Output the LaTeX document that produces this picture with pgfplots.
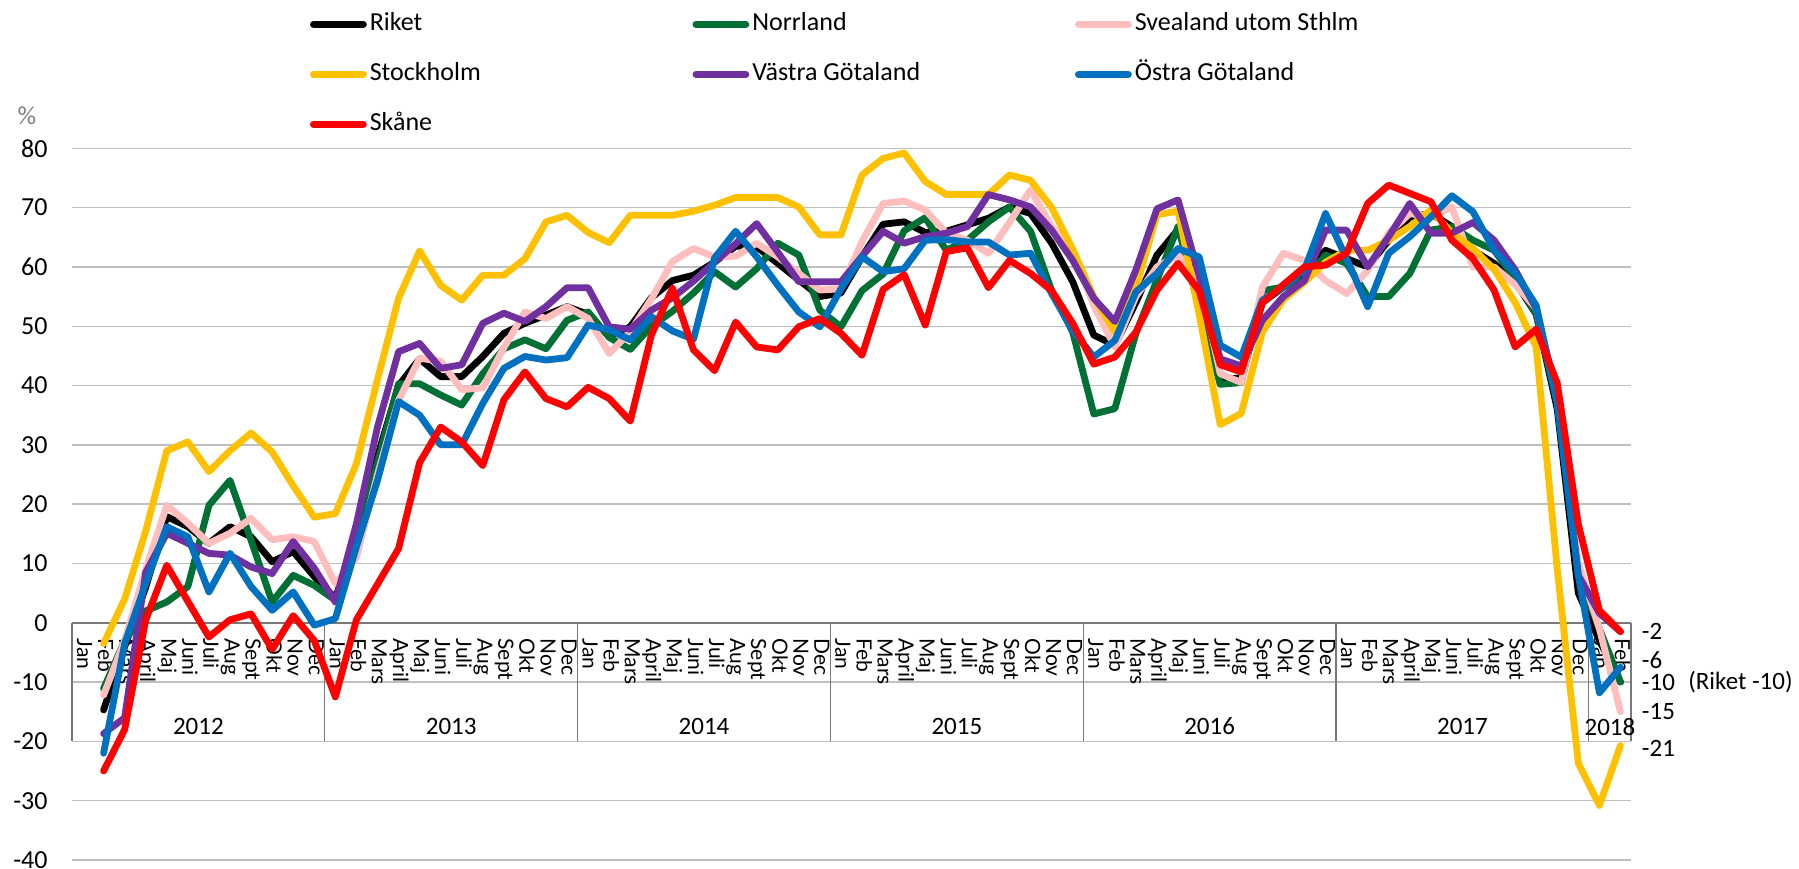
\documentclass[border=0pt]{standalone}
\usepackage{fontspec}
\setmainfont{Carlito}
\newfontfamily\latof{Lato}
\usepackage{pgfplots}
\usepackage{pgfplotstable}
\pgfplotsset{compat=1.18}
\definecolor{cNorr}{RGB}{0,112,52}
\definecolor{cSvea}{RGB}{255,190,190}
\definecolor{cSthlm}{RGB}{255,192,0}
\definecolor{cVG}{RGB}{112,48,160}
\definecolor{cOG}{RGB}{0,112,192}
\definecolor{cSk}{RGB}{255,0,0}
\definecolor{gridgray}{RGB}{191,191,191}
\definecolor{sepgray}{RGB}{120,120,120}

\pgfplotstableread{
i R N S St VG OG Sk
1 -14.7 -11.1 -12.2 -3.5 -18.7 -22 -25
2 -4 -3 -3 4 -16 -3.5 -18
3 6 2 9 15.5 8.5 6.6 0.5
4 17.9 3.5 19.8 29 15.1 16.2 9.7
5 16.2 6.1 16.8 30.5 13.4 14.5 3.6
6 13.4 19.8 13.4 25.5 11.7 5.2 -2.4
7 16.2 24 15.1 29 11.4 11.7 0.5
8 14.5 13.9 17.6 32 9.4 6.1 1.5
9 10.3 3.5 14 28.8 8.3 2.1 -4.5
10 12 8 14.5 23.1 13.7 5.2 1.2
11 7.8 6.3 13.7 17.8 9.2 -0.4 -3
12 4.1 3.8 6.6 18.4 3.5 0.7 -12.5
13 15 14 11 26.8 16.7 12.8 0.5
14 28 27 25 41 33 24 6.5
15 40 40.3 37.5 54.7 45.7 37.3 12.5
16 44.5 40.3 44.6 62.7 47.1 35 27
17 41.5 38.4 44.1 56.9 42.9 30 33
18 41.5 36.7 39.3 54.4 43.5 30 30.5
19 44.9 42 39.6 58.6 50.5 37 26.5
20 48.8 46.2 46.4 58.6 52.2 42.9 37.6
21 50.5 47.7 52.4 61.4 50.8 44.9 42.3
22 51.9 46.2 51.3 67.6 53.3 44.3 37.8
23 53.3 51 53.3 68.7 56.5 44.7 36.4
24 52 52.4 51.3 65.8 56.5 50.2 39.7
25 48.3 48.1 45.4 64.1 49.9 49.4 37.8
26 49.9 46.1 49.1 68.7 49.5 47.7 34
27 54.8 50 54.6 68.7 52.7 51.6 48.5
28 57.7 52.5 60.9 68.7 54.8 49.2 56.4
29 58.6 55.6 63.1 69.4 57.6 47.8 46
30 60.8 59.2 61.7 70.4 60.8 61.5 42.5
31 63.5 56.6 61.8 71.7 63.9 66 50.7
32 63.4 59.7 64 71.7 67.3 61.7 46.5
33 60.6 64 61.7 71.7 62.5 56.9 46
34 57.8 62 58.9 70.1 57.5 52.4 49.9
35 55 52.7 56.1 65.4 57.5 49.9 51.3
36 55.6 49.9 56.3 65.4 57.5 56.3 48.8
37 61.7 56 64.3 75.5 61.8 61.7 45.1
38 67.2 58.8 70.7 78.3 66 59.2 56.2
39 67.6 66.1 71.1 79.2 64 59.7 58.7
40 65.8 68.3 69.6 74.4 65.1 64.5 50.2
41 66 62.8 65.7 72.2 65.7 64.6 62.6
42 67.1 64.5 64.5 72.2 66.8 64.2 63.2
43 68.2 67.6 62.3 72.2 72.2 64.2 56.5
44 70.1 70.1 67.5 75.5 71.3 62 61.1
45 69 66 73 74.6 70.1 62.3 58.9
46 64 56 66.8 70 66.2 55.5 56
47 57.5 49 62.8 63 61.1 49.3 50.5
48 48.5 35.2 53.5 55 54.7 44.8 43.6
49 46.8 36.1 46.5 49 50.8 47.6 44.8
50 54 48.8 55 56.5 59.5 55.8 49
51 62 57.8 60 68.8 69.8 58.9 56.1
52 66.3 66.8 62 69.4 71.3 63.1 60.6
53 57 53 58 52 58.5 61.7 56
54 41 40.2 42 33.4 44.5 46.8 43.5
55 41.3 40.5 40.5 35.3 43.3 44.8 42.3
56 54 56 56.6 49 51 54.4 53.9
57 56.6 56.6 62.3 54.5 55 56.6 57
58 58.9 57.7 61.1 57.4 57.7 59.5 60
59 62.8 62 57.7 60.8 66.2 69 60.3
60 61.4 60.6 55.5 62.8 66.2 61.4 62.3
61 60 55 59.4 62.8 60 53.3 70.7
62 64.5 55 65.7 64.5 65.1 62.3 73.8
63 68.4 58.9 69 66.8 70.7 65.1 72.4
64 69 66.2 68.4 69.6 65.7 68.4 71
65 66.8 66.8 70.1 65.7 65.7 72 64.5
66 62.8 64.5 60 63.1 67.5 69.3 61.4
67 60.6 62.8 60 59.6 64.5 62.8 56.1
68 57.5 58 57 54 59.5 59 46.5
69 52 52 53 46.5 53 53.5 49.5
70 36 37 38 9 38 37 40.4
71 5 8 10 -23.7 8 8 16.6
72 -3 -1 -1 -30.8 1.6 -11.8 2.1
73 -10 -10 -15 -20.7 -1.5 -7.5 -1.5
}\datatable

\tikzset{
  monthlab/.style={rotate=-90, anchor=west, inner sep=0pt, text height=7.5bp, text depth=2bp,
    font=\latof\fontsize{10.5bp}{12bp}\selectfont},
  yearlab/.style={inner sep=0pt, font=\fontsize{12.5bp}{14bp}\selectfont},
  annot/.style={anchor=west, inner sep=0pt, font=\fontsize{12.5bp}{14bp}\selectfont},
}

\begin{document}
\begin{tikzpicture}
\useasboundingbox (0,0) rectangle (899.5bp,434.5bp);
\begin{axis}[
  at={(36bp,4.5bp)}, anchor=south west,
  scale only axis, width=779.5bp, height=355.85bp,
  xmin=-0.5, xmax=73.5, ymin=-40, ymax=80,
  xtick=\empty,
  ytick={-40,-30,...,80},
  yticklabels={\mbox{-40},\mbox{-30},\mbox{-20},\mbox{-10},\mbox{0},\mbox{10},\mbox{20},\mbox{30},\mbox{40},\mbox{50},\mbox{60},\mbox{70},\mbox{80}},
  yticklabel style={font=\fontsize{13bp}{15bp}\selectfont, inner sep=0pt, anchor=east, xshift=-12bp},
  major tick length=0pt,
  ymajorgrids,
  major grid style={color=gridgray, line width=0.7bp},
  axis line style={draw=none},
  clip=false,
  legend columns=3,
  legend cell align=left,
  legend style={at={(0.15266,1.19096)}, anchor=north west, draw=none, fill=none,
    inner sep=0pt, outer sep=0pt, row sep=13bp,
    font=\fontsize{13bp}{15bp}\selectfont,
    nodes={inner sep=0pt, text height=9bp, text depth=3bp},
    /tikz/every odd column/.append style={column sep=1.5bp},
    /tikz/every even column/.append style={column sep=0bp}},
  legend image code/.code={\draw[#1, line width=3.4bp, line cap=round] (0bp,0bp) -- (25bp,0bp);},
  every axis plot/.append style={line width=3.4bp, line join=round, line cap=round, mark=none},
]
% category axis box
\draw[sepgray, line width=0.8bp] (axis cs:-0.5,0) -- (axis cs:73.5,0);
\foreach \s in {-0.5,11.5,23.5,35.5,47.5,59.5,71.5,73.5}{
  \edef\tmp{\noexpand\draw[sepgray, line width=0.6bp] (axis cs:\s,0) -- (axis cs:\s,-20);}\tmp
}
\foreach \m [count=\k from 0] in {Jan,Feb,Mars,April,Maj,Juni,Juli,Aug,Sept,Okt,Nov,Dec,
  Jan,Feb,Mars,April,Maj,Juni,Juli,Aug,Sept,Okt,Nov,Dec,
  Jan,Feb,Mars,April,Maj,Juni,Juli,Aug,Sept,Okt,Nov,Dec,
  Jan,Feb,Mars,April,Maj,Juni,Juli,Aug,Sept,Okt,Nov,Dec,
  Jan,Feb,Mars,April,Maj,Juni,Juli,Aug,Sept,Okt,Nov,Dec,
  Jan,Feb,Mars,April,Maj,Juni,Juli,Aug,Sept,Okt,Nov,Dec,
  Jan,Feb}{
  \edef\tmp{\noexpand\node[monthlab] at (axis cs:\k,-2.6) {\m};}\tmp
}
\node[yearlab] at (axis cs:5.5,-17.5) {2012};
\node[yearlab] at (axis cs:17.5,-17.5) {2013};
\node[yearlab] at (axis cs:29.5,-17.5) {2014};
\node[yearlab] at (axis cs:41.5,-17.5) {2015};
\node[yearlab] at (axis cs:53.5,-17.5) {2016};
\node[yearlab] at (axis cs:65.5,-17.5) {2017};
\node[yearlab] at (axis cs:72.5,-17.5) {2018};
% end annotations
\node[annot] at (axis cs:74.0,-1.5) {-2};
\node[annot] at (axis cs:74.0,-6.3) {-6};
\node[annot] at (axis cs:74.0,-10) {-10};
\node[annot] at (axis cs:74.0,-15) {-15};
\node[annot] at (axis cs:74.0,-21.1) {-21};
\node[annot] at (axis cs:76.2,-10) {(Riket -10)};

\addplot[color=black] table[x=i,y=R] {\datatable};
\addlegendentry{\makebox[161.35bp][l]{Riket}}
\addplot[color=cNorr] table[x=i,y=N] {\datatable};
\addlegendentry{\makebox[161.35bp][l]{Norrland}}
\addplot[color=cSvea] table[x=i,y=S] {\datatable};
\addlegendentry{\makebox[161.35bp][l]{Svealand utom Sthlm}}
\addplot[color=cSthlm] table[x=i,y=St] {\datatable};
\addlegendentry{\makebox[161.35bp][l]{Stockholm}}
\addplot[color=cVG] table[x=i,y=VG] {\datatable};
\addlegendentry{\makebox[161.35bp][l]{Västra Götaland}}
\addplot[color=cOG] table[x=i,y=OG] {\datatable};
\addlegendentry{\makebox[161.35bp][l]{Östra Götaland}}
\addplot[color=cSk] table[x=i,y=Sk] {\datatable};
\addlegendentry{\makebox[161.35bp][l]{Skåne}}
\end{axis}
\node[text=gray, font=\fontsize{13bp}{15bp}\selectfont, inner sep=0pt] at (13.5bp,376.5bp) {\%};
\end{tikzpicture}
\end{document}
